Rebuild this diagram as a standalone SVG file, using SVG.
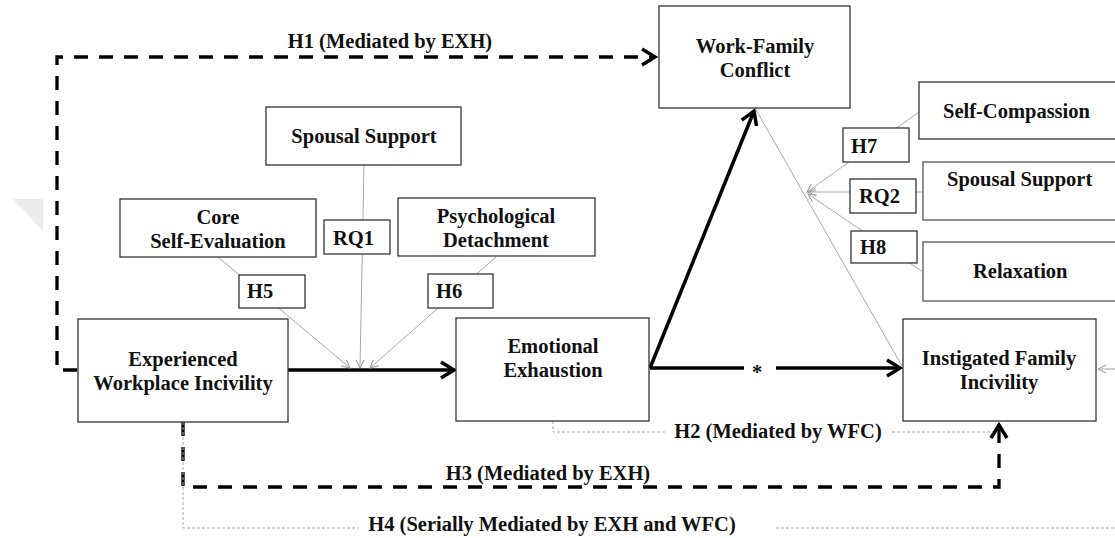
<svg xmlns="http://www.w3.org/2000/svg" width="1115" height="538" viewBox="0 0 1115 538">
<style>
.box{fill:#fff;stroke:#333;stroke-width:1.3}
.t{font-family:"Liberation Serif","Times New Roman",serif;font-weight:bold;font-size:20.5px;fill:#111}
.c{text-anchor:middle}
.thick{fill:none;stroke:#000;stroke-width:3.5}
.dash{fill:none;stroke:#000;stroke-width:3.3;stroke-dasharray:14 11}
.thin{fill:none;stroke:#a8a8a8;stroke-width:1}
.dot{fill:none;stroke:#a8a8a8;stroke-width:1;stroke-dasharray:3 2}
</style>
<defs>
<marker id="ah" viewBox="-16 -10 20 20" refX="0" refY="0" markerWidth="20" markerHeight="20" markerUnits="userSpaceOnUse" orient="auto">
<path d="M-13,-8 L0,0 L-13,8" fill="none" stroke="#000" stroke-width="3.5"/>
</marker>
<marker id="ag" viewBox="-10 -6 12 12" refX="0" refY="0" markerWidth="12" markerHeight="12" markerUnits="userSpaceOnUse" orient="auto">
<path d="M-8,-4 L0,0 L-8,4" fill="none" stroke="#999" stroke-width="1"/>
</marker>
</defs>
<rect width="1115" height="538" fill="#fff"/>
<polygon points="13,199 43,199 43,231" fill="#ebebeb"/>
<g id="connectors">
<path class="dash" d="M77,370 H57 V57 H655" marker-end="url(#ah)"/>
<path class="dash" d="M183,422 V487 H999 V425" marker-end="url(#ah)"/>
<path class="dot" d="M553,421 V432 H666 M892,432 H993"/>
<path class="dot" d="M183,422 V528 H359 M776,528 H1125 V369 H1098"/>
<path class="dot" d="M1125,369 H1098" marker-end="url(#ag)"/>
<line class="thick" x1="288" y1="370" x2="454" y2="370" marker-end="url(#ah)"/>
<line class="thick" x1="650" y1="368" x2="754" y2="111" marker-end="url(#ah)"/>
<line class="thick" x1="650" y1="368" x2="744" y2="368"/>
<line class="thick" x1="776" y1="368" x2="900" y2="368" marker-end="url(#ah)"/>
<line class="thin" x1="755" y1="108" x2="902" y2="366"/>
<line class="thin" x1="364" y1="165" x2="360" y2="368" marker-end="url(#ag)"/>
<line class="thin" x1="218" y1="257" x2="350" y2="368" marker-end="url(#ag)"/>
<line class="thin" x1="496" y1="257" x2="370" y2="368" marker-end="url(#ag)"/>
<line class="thin" x1="919" y1="112" x2="807" y2="192" marker-end="url(#ag)"/>
<line class="thin" x1="923" y1="192" x2="808" y2="192" marker-end="url(#ag)"/>
<line class="thin" x1="923" y1="272" x2="808" y2="194" marker-end="url(#ag)"/>
<text class="t c" x="390" y="48">H1 (Mediated by EXH)</text>
<text class="t c" x="778" y="438">H2 (Mediated by WFC)</text>
<text class="t c" x="548" y="480">H3 (Mediated by EXH)</text>
<text class="t c" x="552" y="531">H4 (Serially Mediated by EXH and WFC)</text>
<text class="t c" x="757" y="379">*</text>
</g>
<g id="wfc"><rect class="box" x="659" y="6" width="191" height="102"/><text class="t c" x="755" y="53">Work-Family</text><text class="t c" x="755" y="77">Conflict</text></g>
<g id="spousal1"><rect class="box" x="266" y="107" width="195" height="58"/><text class="t c" x="364" y="143">Spousal Support</text></g>
<g id="cse"><rect class="box" x="120" y="199" width="196" height="58"/><text class="t c" x="218" y="224">Core</text><text class="t c" x="218" y="248">Self-Evaluation</text></g>
<g id="rq1"><rect class="box" x="324" y="220" width="66" height="34"/><text class="t" x="333" y="245">RQ1</text></g>
<g id="pd"><rect class="box" x="398" y="198" width="197" height="58"/><text class="t c" x="496" y="223">Psychological</text><text class="t c" x="496" y="247">Detachment</text></g>
<g id="h5"><rect class="box" x="239" y="275" width="66" height="33"/><text class="t" x="247" y="298">H5</text></g>
<g id="h6"><rect class="box" x="428" y="274" width="65" height="34"/><text class="t" x="436" y="298">H6</text></g>
<g id="ewi"><rect class="box" x="78" y="319" width="210" height="103"/><text class="t c" x="183" y="366">Experienced</text><text class="t c" x="183" y="390">Workplace Incivility</text></g>
<g id="exh"><rect class="box" x="456" y="318" width="193" height="103"/><text class="t c" x="553" y="353">Emotional</text><text class="t c" x="553" y="377">Exhaustion</text></g>
<g id="ifi"><rect class="box" x="903" y="319" width="193" height="102"/><text class="t c" x="999" y="365">Instigated Family</text><text class="t c" x="999" y="389">Incivility</text></g>
<g id="sc"><rect class="box" x="919" y="82" width="210" height="57"/><text class="t" x="943" y="118">Self-Compassion</text></g>
<g id="spousal2"><rect class="box" x="923" y="162" width="210" height="58" style="stroke:#555"/><text class="t" x="947" y="186">Spousal Support</text></g>
<g id="relax"><rect class="box" x="923" y="242" width="210" height="59" style="stroke:#555"/><text class="t" x="973" y="278">Relaxation</text></g>
<g id="h7"><rect class="box" x="843" y="128" width="66" height="34"/><text class="t" x="851" y="153">H7</text></g>
<g id="rq2"><rect class="box" x="850" y="179" width="66" height="34"/><text class="t" x="859" y="203">RQ2</text></g>
<g id="h8"><rect class="box" x="851" y="231" width="66" height="32"/><text class="t" x="860" y="254">H8</text></g>
</svg>
